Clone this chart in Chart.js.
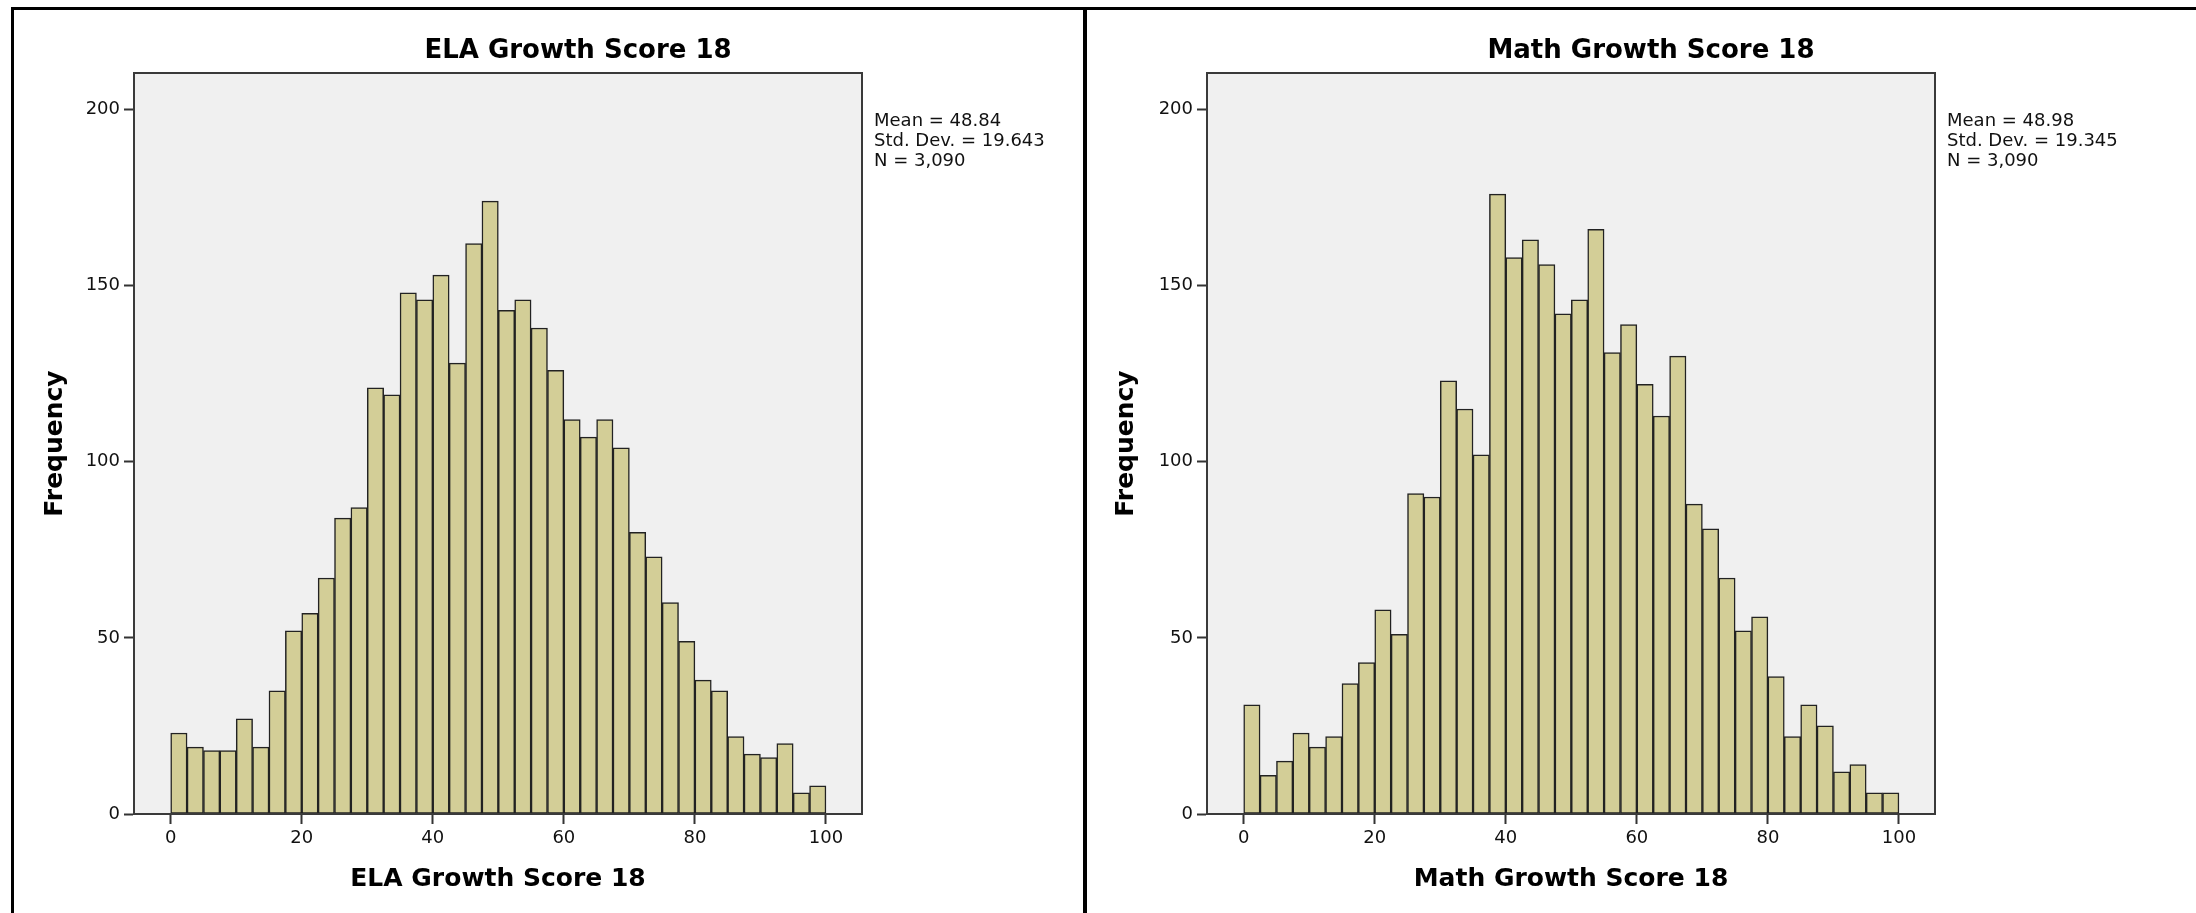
<!DOCTYPE html>
<html>
<head>
<meta charset="utf-8">
<script src="https://cdn.jsdelivr.net/npm/chart.js@4.4.1/dist/chart.umd.min.js"></script>
<style>
  body { margin: 0; background: #fff; width: 2196px; height: 913px; overflow: hidden; position: relative; font-family: "DejaVu Sans", sans-serif; }
  canvas { position: absolute; top: 0; }
  .line { position: absolute; background: #000; z-index: 2; }
  .title { position: absolute; top: 34px; width: 600px; text-align: center; font-weight: bold; font-size: 26px; line-height: 30px; color: #000; }
  .stats { position: absolute; top: 110px; font-size: 18px; line-height: 20px; color: #111; white-space: pre; }
</style>
</head>
<body>
<canvas id="ela" width="1083" height="913" style="left:0px"></canvas>
<canvas id="math" width="1109" height="913" style="left:1087px"></canvas>

<div class="line" style="left:11px; top:7px; width:2185px; height:3px"></div>
<div class="line" style="left:11px; top:7px; width:3px; height:906px"></div>
<div class="line" style="left:1083px; top:7px; width:4px; height:906px"></div>

<div class="title" id="elaTitle" style="left:278px"></div>
<div class="title" id="mathTitle" style="left:1351px"></div>
<div class="stats" id="elaStats" style="left:874px"></div>
<div class="stats" id="mathStats" style="left:1947px"></div>

<script>
// bins of width 2.5 from 0 to 100, given by their centres
var binCenters = [1.25, 3.75, 6.25, 8.75, 11.25, 13.75, 16.25, 18.75, 21.25, 23.75,
  26.25, 28.75, 31.25, 33.75, 36.25, 38.75, 41.25, 43.75, 46.25, 48.75,
  51.25, 53.75, 56.25, 58.75, 61.25, 63.75, 66.25, 68.75, 71.25, 73.75,
  76.25, 78.75, 81.25, 83.75, 86.25, 88.75, 91.25, 93.75, 96.25, 98.75];

var elaCounts = [23, 19, 18, 18, 27, 19, 35, 52, 57, 67,
  84, 87, 121, 119, 148, 146, 153, 128, 162, 174,
  143, 146, 138, 126, 112, 107, 112, 104, 80, 73,
  60, 49, 38, 35, 22, 17, 16, 20, 6, 8];

var mathCounts = [31, 11, 15, 23, 19, 22, 37, 43, 58, 51,
  91, 90, 123, 115, 102, 176, 158, 163, 156, 142,
  146, 166, 131, 139, 122, 113, 130, 88, 81, 67,
  52, 56, 39, 22, 31, 25, 12, 14, 6, 6];

var xTicks = [0, 20, 40, 60, 80, 100];
var yTicks = [0, 50, 100, 150, 200];

var elaTitle = "ELA Growth Score 18";
var mathTitle = "Math Growth Score 18";
var elaStats = ["Mean = 48.84", "Std. Dev. = 19.643", "N = 3,090"];
var mathStats = ["Mean = 48.98", "Std. Dev. = 19.345", "N = 3,090"];

Chart.defaults.font.family = "'DejaVu Sans', sans-serif";

// grey plot area with a dark frame, like SPSS
var plotFrame = {
  id: "plotFrame",
  beforeDraw: function (chart) {
    var a = chart.chartArea;
    var ctx = chart.ctx;
    ctx.save();
    ctx.fillStyle = "#f0f0f0";
    ctx.fillRect(a.left, a.top, a.right - a.left, a.bottom - a.top);
    ctx.restore();
  },
  afterDraw: function (chart) {
    var a = chart.chartArea;
    var ctx = chart.ctx;
    ctx.save();
    ctx.strokeStyle = "#3a3a3a";
    ctx.lineWidth = 2;
    ctx.strokeRect(a.left, a.top, a.right - a.left, a.bottom - a.top);
    ctx.restore();
  }
};

function plotChart(id, counts, label, pad, yWidth) {
  var context = document.getElementById(id).getContext("2d");
  var points = binCenters.map(function (c, i) {
    return { x: c, y: counts[i] };
  });

  return new Chart(context, {
    type: "bar",
    data: {
      datasets: [
        {
          data: points,
          backgroundColor: "rgb(211, 206, 151)",
          borderColor: "#222",
          borderWidth: 1.5,
          borderSkipped: false,
          barPercentage: 1,
          categoryPercentage: 1,
        },
      ],
    },
    plugins: [plotFrame],
    options: {
      responsive: false,
      animation: false,
      devicePixelRatio: 1,
      layout: { padding: pad },
      plugins: { legend: { display: false }, tooltip: { enabled: false } },
      scales: {
        x: {
          type: "linear",
          min: -5.6,
          max: 105.5,
          offset: false,
          afterBuildTicks: function (s) {
            s.ticks = xTicks.map(function (v) { return { value: v }; });
          },
          afterFit: function (s) { s.height = 80; },
          grid: { drawOnChartArea: false, offset: false, tickLength: 10, tickColor: "#333", tickWidth: 2 },
          border: { display: true, color: "#3a3a3a", width: 2 },
          ticks: { padding: 4, color: "#111", font: { size: 18 }, maxRotation: 0 },
          title: { display: true, text: label, color: "#000", padding: 0, font: { size: 25, weight: "bold" } },
        },
        y: {
          type: "linear",
          min: 0,
          max: 210.4,
          afterBuildTicks: function (s) {
            s.ticks = yTicks.map(function (v) { return { value: v }; });
          },
          afterFit: function (s) { s.width = yWidth; },
          grid: { drawOnChartArea: false, tickLength: 10, tickColor: "#333", tickWidth: 2 },
          border: { display: true, color: "#3a3a3a", width: 2 },
          ticks: { padding: 4, color: "#111", font: { size: 18 } },
          title: { display: true, text: "Frequency", color: "#000", padding: 0, font: { size: 25, weight: "bold" } },
        },
      },
    },
  });
}

document.getElementById("elaTitle").textContent = elaTitle;
document.getElementById("mathTitle").textContent = mathTitle;
document.getElementById("elaStats").textContent = elaStats.join("\n");
document.getElementById("mathStats").textContent = mathStats.join("\n");

plotChart("ela", elaCounts, elaTitle, { left: 40, right: 221, top: 73, bottom: 19 }, 94);
plotChart("math", mathCounts, mathTitle, { left: 24, right: 261, top: 73, bottom: 19 }, 96);
</script>
</body>
</html>
